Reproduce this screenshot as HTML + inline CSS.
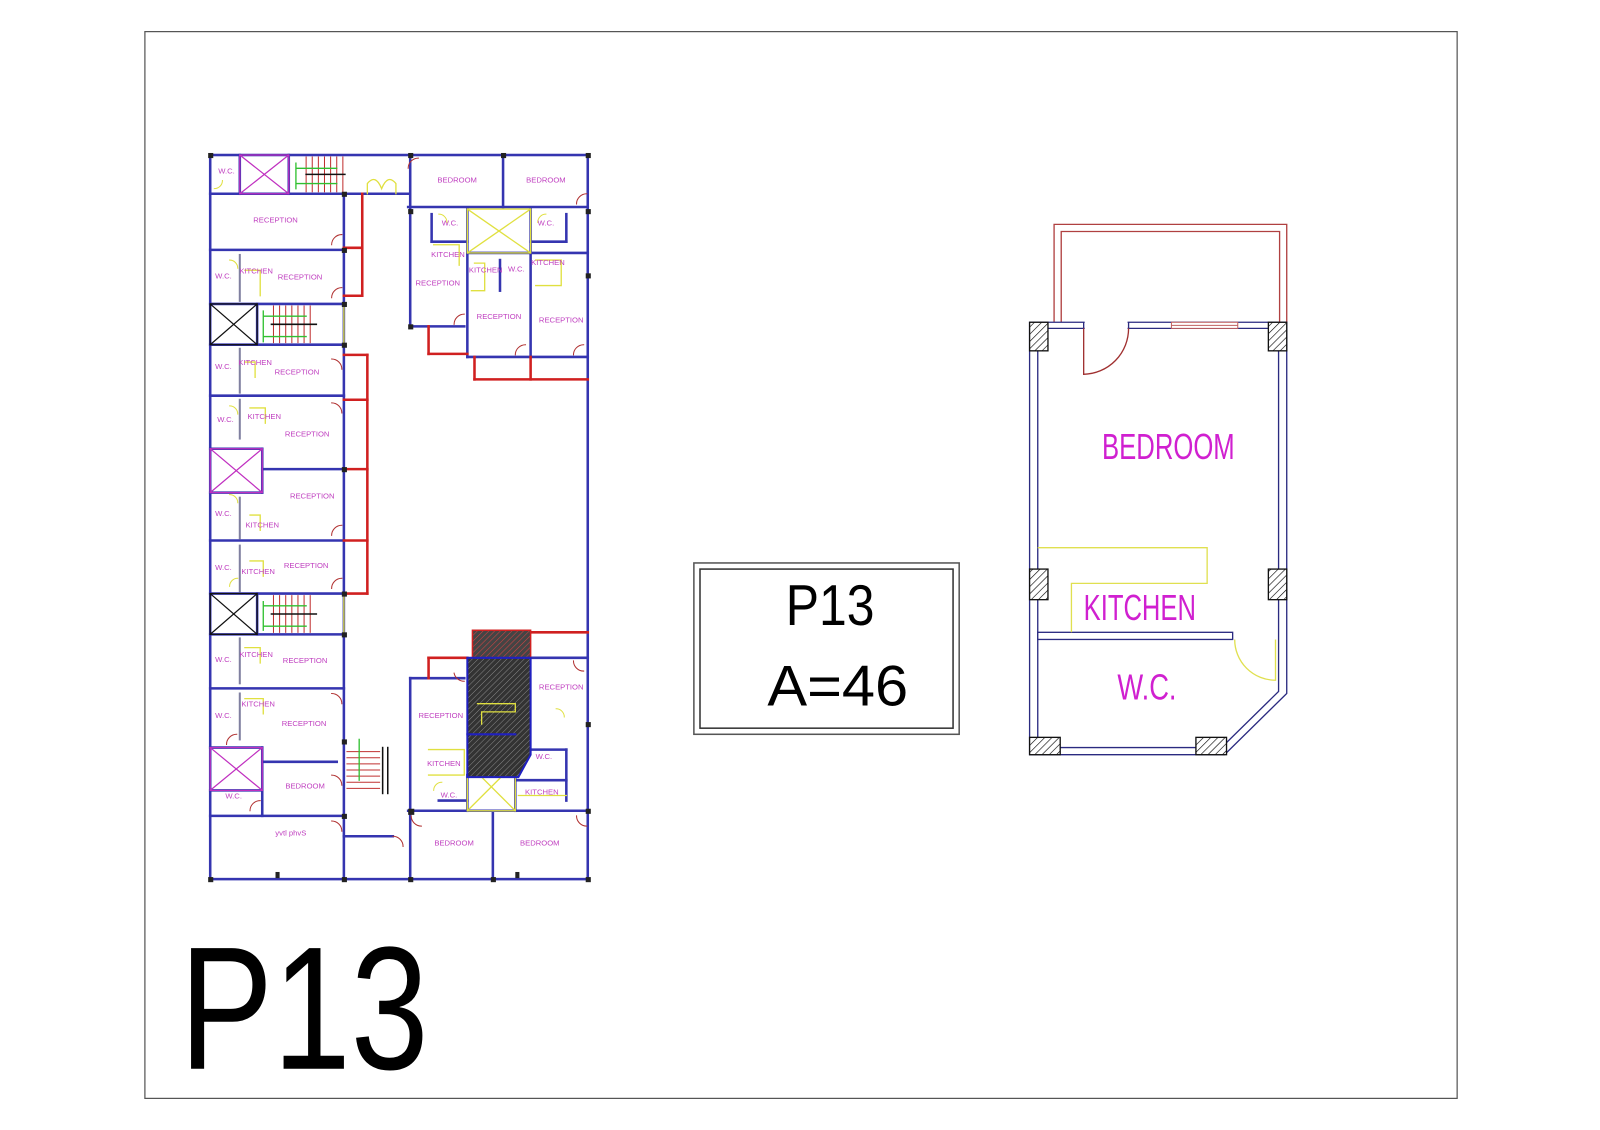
<!DOCTYPE html>
<html><head><meta charset="utf-8"><style>
html,body{margin:0;padding:0;background:#fff;}
svg{display:block;}
</style></head><body>
<svg width="1600" height="1130" viewBox="0 0 1568 1108" preserveAspectRatio="none" xmlns="http://www.w3.org/2000/svg">
<defs>
<pattern id="h" width="5" height="5" patternUnits="userSpaceOnUse" patternTransform="rotate(45)"><rect width="5" height="5" fill="#fff"/><line x1="0" y1="0" x2="0" y2="5" stroke="#000" stroke-width="1.2"/></pattern>
<pattern id="dk" width="4" height="4" patternUnits="userSpaceOnUse" patternTransform="rotate(45)"><rect width="4" height="4" fill="#333"/><line x1="0" y1="0" x2="0" y2="4" stroke="#999" stroke-width="0.8"/></pattern>
<pattern id="rk" width="4" height="4" patternUnits="userSpaceOnUse" patternTransform="rotate(45)"><rect width="4" height="4" fill="#444"/><line x1="0" y1="0" x2="0" y2="4" stroke="#d44" stroke-width="1"/></pattern>
</defs>
<rect width="1568" height="1108" fill="#fff"/>
<rect x="142" y="31" width="1286" height="1046" fill="none" stroke="#555" stroke-width="1.2"/>

<!-- LEFT PLAN -->
<g fill="none" stroke-linecap="square">
<g stroke="#3535b0" stroke-width="2.5">
<rect x="206" y="152" width="370" height="710"/>
<line x1="206" y1="190" x2="400" y2="190"/>
<line x1="206" y1="245" x2="337" y2="245"/>
<line x1="206" y1="298" x2="337" y2="298"/>
<line x1="206" y1="338" x2="337" y2="338"/>
<line x1="206" y1="388" x2="337" y2="388"/>
<line x1="206" y1="440" x2="257" y2="440"/>
<line x1="257" y1="460" x2="337" y2="460"/>
<line x1="206" y1="483" x2="257" y2="483"/>
<line x1="206" y1="530" x2="337" y2="530"/>
<line x1="206" y1="582" x2="337" y2="582"/>
<line x1="206" y1="622" x2="337" y2="622"/>
<line x1="206" y1="675" x2="337" y2="675"/>
<line x1="206" y1="733" x2="257" y2="733"/>
<line x1="257" y1="747" x2="330" y2="747"/>
<line x1="206" y1="775" x2="257" y2="775"/>
<line x1="206" y1="800" x2="337" y2="800"/>
<line x1="257" y1="733" x2="257" y2="800"/>
<line x1="257" y1="440" x2="257" y2="483"/>
<line x1="235" y1="152" x2="235" y2="190"/>
<line x1="283" y1="152" x2="283" y2="190"/>
<line x1="252" y1="298" x2="252" y2="338"/>
<line x1="252" y1="582" x2="252" y2="622"/>
<line x1="337" y1="190" x2="337" y2="862"/>
<line x1="337" y1="820" x2="385" y2="820"/>
<line x1="402" y1="152" x2="402" y2="320"/>
<line x1="400" y1="203" x2="576" y2="203"/>
<line x1="493" y1="152" x2="493" y2="203"/>
<line x1="458" y1="205" x2="458" y2="350"/>
<line x1="520" y1="205" x2="520" y2="350"/>
<line x1="402" y1="320" x2="455" y2="320"/>
<line x1="458" y1="350" x2="576" y2="350"/>
<line x1="458" y1="248" x2="576" y2="248"/>
<line x1="423" y1="210" x2="423" y2="237"/>
<line x1="423" y1="237" x2="458" y2="237"/>
<line x1="520" y1="237" x2="555" y2="237"/>
<line x1="555" y1="210" x2="555" y2="237"/>
<line x1="490" y1="255" x2="490" y2="285"/>
<line x1="402" y1="665" x2="402" y2="862"/>
<line x1="402" y1="665" x2="455" y2="665"/>
<line x1="400" y1="795" x2="576" y2="795"/>
<line x1="483" y1="795" x2="483" y2="862"/>
<line x1="520" y1="645" x2="576" y2="645"/>
<line x1="505" y1="735" x2="555" y2="735"/>
<line x1="555" y1="735" x2="555" y2="785"/>
<line x1="505" y1="765" x2="555" y2="765"/>
<line x1="458" y1="760" x2="458" y2="795"/>
<line x1="505" y1="760" x2="505" y2="795"/>
<line x1="430" y1="785" x2="458" y2="785"/>
</g>
<g stroke="#8080a0" stroke-width="2">
<line x1="235" y1="250" x2="235" y2="295"/>
<line x1="235" y1="342" x2="235" y2="385"/>
<line x1="235" y1="392" x2="235" y2="430"/>
<line x1="235" y1="488" x2="235" y2="528"/>
<line x1="235" y1="535" x2="235" y2="580"/>
<line x1="235" y1="626" x2="235" y2="670"/>
<line x1="235" y1="680" x2="235" y2="725"/>
</g>
<g stroke="#d02020" stroke-width="2.5">
<line x1="355" y1="190" x2="355" y2="290"/>
<line x1="337" y1="243" x2="355" y2="243"/>
<line x1="337" y1="290" x2="355" y2="290"/>
<line x1="360" y1="348" x2="360" y2="582"/>
<line x1="337" y1="348" x2="360" y2="348"/>
<line x1="337" y1="392" x2="360" y2="392"/>
<line x1="337" y1="460" x2="360" y2="460"/>
<line x1="337" y1="530" x2="360" y2="530"/>
<line x1="337" y1="582" x2="360" y2="582"/>
<line x1="420" y1="320" x2="420" y2="347"/>
<line x1="420" y1="347" x2="458" y2="347"/>
<line x1="465" y1="350" x2="465" y2="372"/>
<line x1="465" y1="372" x2="576" y2="372"/>
<line x1="520" y1="350" x2="520" y2="372"/>
<line x1="520" y1="620" x2="576" y2="620"/>
<line x1="420" y1="645" x2="458" y2="645"/>
<line x1="420" y1="645" x2="420" y2="665"/>
</g>
<g stroke="#c030c0" stroke-width="1.2">
<rect x="235" y="152" width="48" height="38"/><line x1="235" y1="152" x2="283" y2="190"/><line x1="283" y1="152" x2="235" y2="190"/>
<rect x="206" y="440" width="51" height="43"/><line x1="206" y1="440" x2="257" y2="483"/><line x1="257" y1="440" x2="206" y2="483"/>
<rect x="206" y="733" width="51" height="42"/><line x1="206" y1="733" x2="257" y2="775"/><line x1="257" y1="733" x2="206" y2="775"/>
</g>
<g stroke="#111" stroke-width="1.2">
<rect x="206" y="298" width="46" height="40"/><line x1="206" y1="298" x2="252" y2="338"/><line x1="252" y1="298" x2="206" y2="338"/>
<rect x="206" y="582" width="46" height="40"/><line x1="206" y1="582" x2="252" y2="622"/><line x1="252" y1="582" x2="206" y2="622"/>
</g>
<g stroke="#e0e040" stroke-width="1.3">
<rect x="458" y="205" width="62" height="43"/><line x1="458" y1="205" x2="520" y2="248"/><line x1="520" y1="205" x2="458" y2="248"/>
<rect x="458" y="748" width="47" height="47"/><line x1="458" y1="748" x2="505" y2="795"/><line x1="505" y1="748" x2="458" y2="795"/>
<path d="M360 190 L360 180 Q368 170 374 185 Q380 170 388 180 L388 190"/>
<line x1="337" y1="298" x2="337" y2="338"/><line x1="337" y1="582" x2="337" y2="622"/>
<path d="M240 265 L255 265 L255 290"/><path d="M240 355 L250 355 L250 370"/><path d="M245 400 L260 400 L260 415"/>
<path d="M245 505 L255 505 L255 520"/><path d="M245 550 L258 550 L258 565"/><path d="M240 635 L255 635 L255 650"/>
<path d="M240 685 L258 685 L258 700"/><path d="M425 240 L450 240 L450 260"/><path d="M525 255 L550 255 L550 280 L525 280"/>
<path d="M465 258 L475 258 L475 285 L462 285"/><path d="M420 735 L455 735 L455 760 L420 760"/><path d="M508 780 L555 780"/>
</g>
<g stroke="#c03030" stroke-width="1">
<path d="M300 154v34M306 154v34M312 154v34M318 154v34M324 154v34M330 154v34M336 154v34"/>
<path d="M268 300v36M274 300v36M280 300v36M286 300v36M292 300v36M298 300v36M304 300v36"/>
<path d="M268 584v36M274 584v36M280 584v36M286 584v36M292 584v36M298 584v36M304 584v36"/>
<path d="M340 737h32M340 743h32M340 749h32M340 755h32M340 761h32M340 767h32M340 773h32"/>
</g>
<g stroke="#111" stroke-width="1.5">
<line x1="300" y1="171" x2="338" y2="171"/><line x1="266" y1="318" x2="310" y2="318"/><line x1="266" y1="602" x2="310" y2="602"/>
<line x1="375" y1="733" x2="375" y2="778"/><line x1="380" y1="733" x2="380" y2="778"/>
</g>
<g stroke="#30c030" stroke-width="1.3">
<path d="M290 160 L290 185 M290 165 L330 165 M290 180 L330 180"/>
<path d="M258 305 L258 335 M258 310 L300 310 M258 330 L300 330"/>
<path d="M258 590 L258 618 M258 594 L300 594 M258 614 L300 614"/>
<path d="M352 725 L352 765"/>
</g>
<rect x="463" y="618" width="57" height="27" fill="url(#rk)" stroke="#d02020" stroke-width="1.5"/>
<path d="M458 645 L520 645 L520 740 L508 762 L458 762 Z" fill="url(#dk)" stroke="#2020c0" stroke-width="2"/>
<path d="M468 690 L505 690 L505 698 L472 698 L472 710" stroke="#e0e040" stroke-width="1.3"/>
<line x1="458" y1="720" x2="505" y2="720" stroke="#2020c0" stroke-width="2"/>
<g stroke="#b03030" stroke-width="1">
<path d="M400 165 A10 10 0 0 1 410 155"/><path d="M325 240 A10 10 0 0 1 335 230"/><path d="M325 292 A10 10 0 0 1 335 282"/>
<path d="M325 352 A10 10 0 0 1 335 362"/><path d="M325 395 A10 10 0 0 1 335 405"/><path d="M325 525 A10 10 0 0 1 335 515"/>
<path d="M325 577 A10 10 0 0 1 335 567"/><path d="M325 680 A10 10 0 0 1 335 690"/><path d="M325 760 A10 10 0 0 1 335 770"/>
<path d="M325 805 A10 10 0 0 1 335 815"/><path d="M222 730 A10 10 0 0 1 232 720"/><path d="M245 795 A10 10 0 0 1 255 785"/>
<path d="M445 318 A10 10 0 0 1 455 308"/><path d="M505 348 A10 10 0 0 1 515 338"/><path d="M562 348 A10 10 0 0 1 572 338"/>
<path d="M565 200 A10 10 0 0 1 575 190"/><path d="M403 800 A10 10 0 0 0 413 810"/><path d="M565 800 A10 10 0 0 0 575 810"/>
<path d="M385 820 A10 10 0 0 1 395 830"/><path d="M562 648 A10 10 0 0 0 572 658"/><path d="M445 660 A10 10 0 0 0 455 668"/>
</g>
<g stroke="#e0e040" stroke-width="1">
<path d="M210 185 A8 8 0 0 0 218 177"/><path d="M225 255 A8 8 0 0 1 233 263"/><path d="M225 398 A8 8 0 0 1 233 406"/>
<path d="M225 485 A8 8 0 0 1 233 493"/><path d="M225 575 A8 8 0 0 1 233 567"/><path d="M430 210 A8 8 0 0 1 438 218"/>
<path d="M535 210 A8 8 0 0 0 527 218"/><path d="M545 695 A8 8 0 0 1 553 703"/><path d="M425 775 A8 8 0 0 1 433 767"/>
</g>
<g fill="#222" stroke="none">
<rect x="204" y="150" width="5" height="5"/><rect x="574" y="150" width="5" height="5"/><rect x="204" y="860" width="5" height="5"/><rect x="574" y="860" width="5" height="5"/>
<rect x="335" y="188" width="5" height="5"/><rect x="400" y="150" width="5" height="5"/><rect x="491" y="150" width="5" height="5"/>
<rect x="400" y="205" width="5" height="5"/><rect x="400" y="318" width="5" height="5"/><rect x="574" y="205" width="5" height="5"/>
<rect x="574" y="268" width="5" height="5"/><rect x="335" y="243" width="5" height="5"/><rect x="335" y="296" width="5" height="5"/>
<rect x="335" y="336" width="5" height="5"/><rect x="335" y="458" width="5" height="5"/><rect x="335" y="580" width="5" height="5"/>
<rect x="335" y="620" width="5" height="5"/><rect x="335" y="725" width="5" height="5"/><rect x="335" y="798" width="5" height="5"/>
<rect x="335" y="860" width="5" height="5"/><rect x="400" y="793" width="6" height="6"/><rect x="400" y="860" width="5" height="5"/>
<rect x="481" y="860" width="5" height="5"/><rect x="574" y="708" width="5" height="5"/><rect x="574" y="793" width="5" height="5"/>
<rect x="270" y="855" width="4" height="6"/><rect x="505" y="855" width="4" height="6"/>
</g>
</g>
<g font-family="Liberation Sans, sans-serif" font-size="7.5" fill="#c040c0" text-anchor="middle">
<text x="222" y="170">W.C.</text><text x="448" y="179">BEDROOM</text><text x="535" y="179">BEDROOM</text>
<text x="270" y="218">RECEPTION</text><text x="441" y="221">W.C.</text><text x="535" y="221">W.C.</text>
<text x="439" y="252">KITCHEN</text><text x="476" y="267">KITCHEN</text><text x="506" y="266">W.C.</text><text x="537" y="260">KITCHEN</text>
<text x="219" y="273">W.C.</text><text x="251" y="268">KITCHEN</text><text x="294" y="274">RECEPTION</text>
<text x="429" y="280">RECEPTION</text><text x="489" y="313">RECEPTION</text><text x="550" y="316">RECEPTION</text>
<text x="219" y="362">W.C.</text><text x="250" y="358">KITCHEN</text><text x="291" y="367">RECEPTION</text>
<text x="221" y="414">W.C.</text><text x="259" y="411">KITCHEN</text><text x="301" y="428">RECEPTION</text>
<text x="306" y="489">RECEPTION</text><text x="219" y="506">W.C.</text><text x="257" y="517">KITCHEN</text>
<text x="219" y="559">W.C.</text><text x="253" y="563">KITCHEN</text><text x="300" y="557">RECEPTION</text>
<text x="219" y="649">W.C.</text><text x="251" y="644">KITCHEN</text><text x="299" y="650">RECEPTION</text>
<text x="550" y="676">RECEPTION</text><text x="219" y="704">W.C.</text><text x="253" y="693">KITCHEN</text><text x="298" y="712">RECEPTION</text>
<text x="432" y="704">RECEPTION</text><text x="435" y="751">KITCHEN</text><text x="533" y="744">W.C.</text>
<text x="299" y="773">BEDROOM</text><text x="229" y="783">W.C.</text><text x="440" y="782">W.C.</text><text x="531" y="779">KITCHEN</text>
<text x="285" y="819">yvtl phvS</text><text x="445" y="829">BEDROOM</text><text x="529" y="829">BEDROOM</text>
</g>

<text x="176" y="1048" font-family="Liberation Sans, sans-serif" font-size="172" fill="#000" textLength="244" lengthAdjust="spacingAndGlyphs">P13</text>

<rect x="680" y="552" width="260" height="168" fill="none" stroke="#555" stroke-width="1.5"/>
<rect x="686" y="558" width="248" height="156" fill="none" stroke="#333" stroke-width="1.5"/>
<text x="770" y="613" font-family="Liberation Sans, sans-serif" font-size="56" fill="#000" textLength="87" lengthAdjust="spacingAndGlyphs">P13</text>
<text x="752" y="692" font-family="Liberation Sans, sans-serif" font-size="56" fill="#000" textLength="138" lengthAdjust="spacingAndGlyphs">A=46</text>

<g fill="none">
<path d="M1033 316 L1033 220 L1261 220 L1261 316" stroke="#b04040" stroke-width="1.3"/>
<path d="M1040 316 L1040 227 L1254 227 L1254 316" stroke="#b04040" stroke-width="1.3"/>
<path d="M1009 316 L1261 316 L1261 680 L1200 740 L1009 740 Z" stroke="#2a2a80" stroke-width="1.3"/>
<path d="M1017 322 L1253 322 L1253 678 L1197 733 L1017 733 Z" stroke="#2a2a80" stroke-width="1.3"/>
<rect x="1063" y="314" width="42" height="10" fill="#fff" stroke="none"/>
<line x1="1062" y1="316" x2="1062" y2="322" stroke="#2a2a80" stroke-width="1.3"/>
<line x1="1106" y1="316" x2="1106" y2="322" stroke="#2a2a80" stroke-width="1.3"/>
<rect x="1148" y="316" width="65" height="6" fill="#fff" stroke="#c06060" stroke-width="1"/>
<line x1="1148" y1="319" x2="1213" y2="319" stroke="#c06060" stroke-width="1"/>
<path d="M1062 322 L1062 367 A45 45 0 0 0 1106 322" stroke="#a03030" stroke-width="1.3"/>
<rect x="1017" y="620" width="191" height="7" fill="#fff" stroke="#2a2a80" stroke-width="1.3"/>
<path d="M1017 537 L1183 537 L1183 572 L1050 572 L1050 620" stroke="#e0e050" stroke-width="1.3"/>
<path d="M1210 627 A40 40 0 0 0 1250 667 L1250 627" stroke="#e0e050" stroke-width="1.3"/>
<g stroke="#111" stroke-width="1.3" fill="url(#h)">
<rect x="1009" y="316" width="18" height="28"/><rect x="1243" y="316" width="18" height="28"/>
<rect x="1009" y="558" width="18" height="30"/><rect x="1243" y="558" width="18" height="30"/>
<rect x="1009" y="723" width="30" height="17"/><rect x="1172" y="723" width="30" height="17"/>
</g>
</g>
<g font-family="Liberation Sans, sans-serif" fill="#d020d0">
<text x="1080" y="450" font-size="35" textLength="130" lengthAdjust="spacingAndGlyphs">BEDROOM</text>
<text x="1062" y="608" font-size="35" textLength="110" lengthAdjust="spacingAndGlyphs">KITCHEN</text>
<text x="1095" y="686" font-size="35" textLength="58" lengthAdjust="spacingAndGlyphs">W.C.</text>
</g>
</svg>
</body></html>
